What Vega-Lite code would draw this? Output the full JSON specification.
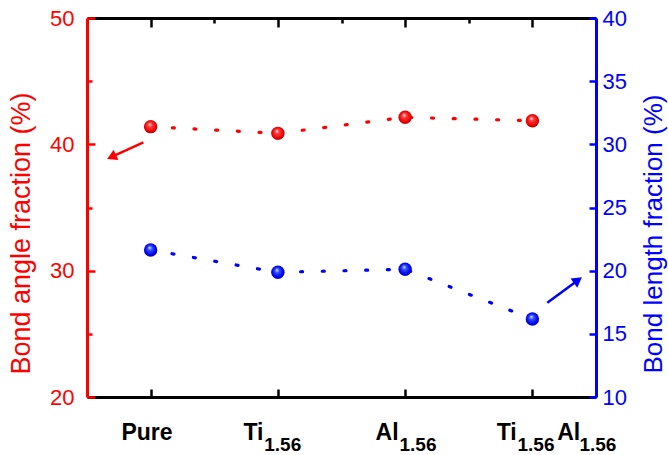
{
  "$schema": "https://vega.github.io/schema/vega-lite/v6.json",
  "width": 509,
  "height": 379,
  "autosize": {"type": "none"},
  "padding": {"left": 87, "top": 18, "right": 72, "bottom": 58},
  "background": "white",
  "config": {"view": {"stroke": null}, "font": "Liberation Sans"},
  "datasets": {
    "fractions": [
      {"pos": 1, "sample": "Pure", "angle": 41.4, "length": 21.64},
      {"pos": 2, "sample": "Ti1.56", "angle": 40.87, "length": 19.87},
      {"pos": 3, "sample": "Al1.56", "angle": 42.14, "length": 20.11},
      {"pos": 4, "sample": "Ti1.56Al1.56", "angle": 41.87, "length": 16.17}
    ],
    "arrows": [
      {"series": "angle", "x0": 0.943, "y0": 40.16, "x1": 0.693, "y1": 39.0, "heading": 245},
      {"series": "length", "x0": 4.117, "y0": 17.46, "x1": 4.358, "y1": 19.24, "heading": 53.9}
    ]
  },
  "resolve": {"scale": {"y": "independent"}, "axis": {"x": "independent", "y": "independent"}},
  "layer": [
    {
      "layer": [
        {
          "data": {"name": "fractions"},
          "mark": {"type": "line", "color": "#ff0000", "strokeWidth": 3.2, "strokeDash": [2, 19.7], "strokeCap": "round"},
          "encoding": {
            "x": {"field": "pos", "type": "quantitative", "scale": {"domain": [0.5, 4.5]},
              "axis": {"orient": "bottom", "values": [1, 2, 3, 4], "title": null, "labels": false,
                "domainColor": "#000000", "domainWidth": 3, "tickColor": "#000000", "tickWidth": 2.5, "tickSize": -8,
                "grid": false, "zindex": 1}},
            "y": {"field": "angle", "type": "quantitative", "scale": {"domain": [20, 50]},
              "axis": {"orient": "left", "title": "Bond angle fraction (%)", "titleColor": "#ff0000", "titleFont": "Liberation Sans",
                "titleFontSize": 27, "titleFontWeight": "normal", "titleAngle": 270, "titleAlign": "center", "titleBaseline": "middle",
                "titleX": -65.5, "titleY": 215,
                "values": [20, 25, 30, 35, 40, 45, 50], "labelExpr": "datum.value % 10 === 0 ? datum.label : ''",
                "labelColor": "#ff0000", "labelFont": "Liberation Sans", "labelFontSize": 22, "labelPadding": 21, "labelOverlap": false,
                "domainColor": "#ff0000", "domainWidth": 3, "tickColor": "#ff0000", "tickWidth": 2.5,
                "tickSize": {"condition": {"test": "datum.value % 10 !== 0", "value": -5}, "value": -8},
                "grid": false, "zindex": 2}}
          }
        },
        {
          "data": {"name": "fractions"},
          "mark": {"type": "point", "filled": true, "size": 180, "opacity": 1,
            "fill": {"gradient": "radial", "x1": 0.42, "y1": 0.32, "r1": 0, "x2": 0.5, "y2": 0.5, "r2": 0.55,
              "stops": [{"offset": 0, "color": "#ffffff"}, {"offset": 0.3, "color": "#ff3a3a"}, {"offset": 0.75, "color": "#f00000"}, {"offset": 1, "color": "#a00000"}]}},
          "encoding": {
            "x": {"field": "pos", "type": "quantitative", "scale": {"domain": [0.5, 4.5]}},
            "y": {"field": "angle", "type": "quantitative", "scale": {"domain": [20, 50]}}
          }
        },
        {
          "data": {"name": "arrows"},
          "transform": [{"filter": "datum.series === 'angle'"}],
          "mark": {"type": "rule", "color": "#ff0000", "strokeWidth": 2.5},
          "encoding": {
            "x": {"field": "x0", "type": "quantitative", "scale": {"domain": [0.5, 4.5]}},
            "y": {"field": "y0", "type": "quantitative", "scale": {"domain": [20, 50]}},
            "x2": {"field": "x1"},
            "y2": {"field": "y1"}
          }
        },
        {
          "data": {"name": "arrows"},
          "transform": [{"filter": "datum.series === 'angle'"}],
          "mark": {"type": "point", "shape": "triangle-up", "filled": true, "color": "#ff0000", "size": 130, "opacity": 1},
          "encoding": {
            "x": {"field": "x1", "type": "quantitative", "scale": {"domain": [0.5, 4.5]}},
            "y": {"field": "y1", "type": "quantitative", "scale": {"domain": [20, 50]}},
            "angle": {"field": "heading", "type": "quantitative", "scale": null}
          }
        }
      ]
    },
    {
      "layer": [
        {
          "data": {"name": "fractions"},
          "mark": {"type": "line", "color": "#0000ff", "strokeWidth": 3.2, "strokeDash": [2, 19.7], "strokeCap": "round"},
          "encoding": {
            "x": {"field": "pos", "type": "quantitative", "scale": {"domain": [0.5, 4.5]},
              "axis": {"orient": "top", "values": [1, 1.5, 2, 2.5, 3, 3.5, 4], "title": null, "labels": false,
                "domainColor": "#000000", "domainWidth": 3, "tickColor": "#000000", "tickWidth": 2.5,
                "tickSize": {"condition": {"test": "datum.value % 1 !== 0", "value": -5}, "value": -9},
                "grid": false, "zindex": 1}},
            "y": {"field": "length", "type": "quantitative", "scale": {"domain": [10, 40]},
              "axis": {"orient": "right", "title": "Bond length fraction (%)", "titleColor": "#0000ff", "titleFont": "Liberation Sans",
                "titleFontSize": 26, "titleFontWeight": "normal", "titleAngle": 270, "titleAlign": "center", "titleBaseline": "middle",
                "titleX": 57, "titleY": 215.5,
                "values": [10, 12.5, 15, 17.5, 20, 22.5, 25, 27.5, 30, 32.5, 35, 37.5, 40],
                "labelExpr": "datum.value % 5 === 0 ? datum.label : ''",
                "labelColor": "#0000ff", "labelFont": "Liberation Sans", "labelFontSize": 22, "labelPadding": 13, "labelOverlap": false,
                "domainColor": "#0000ff", "domainWidth": 3, "tickColor": "#0000ff", "tickWidth": 2.5,
                "tickSize": {"condition": {"test": "datum.value % 5 !== 0", "value": -4}, "value": -7},
                "grid": false, "zindex": 2}}
          }
        },
        {
          "data": {"name": "fractions"},
          "mark": {"type": "point", "filled": true, "size": 180, "opacity": 1,
            "fill": {"gradient": "radial", "x1": 0.42, "y1": 0.32, "r1": 0, "x2": 0.5, "y2": 0.5, "r2": 0.55,
              "stops": [{"offset": 0, "color": "#e8f0ff"}, {"offset": 0.3, "color": "#3050ff"}, {"offset": 0.75, "color": "#0000f0"}, {"offset": 1, "color": "#0000a0"}]}},
          "encoding": {
            "x": {"field": "pos", "type": "quantitative", "scale": {"domain": [0.5, 4.5]}},
            "y": {"field": "length", "type": "quantitative", "scale": {"domain": [10, 40]}}
          }
        },
        {
          "data": {"name": "arrows"},
          "transform": [{"filter": "datum.series === 'length'"}],
          "mark": {"type": "rule", "color": "#0000ff", "strokeWidth": 2.5},
          "encoding": {
            "x": {"field": "x0", "type": "quantitative", "scale": {"domain": [0.5, 4.5]}},
            "y": {"field": "y0", "type": "quantitative", "scale": {"domain": [10, 40]}},
            "x2": {"field": "x1"},
            "y2": {"field": "y1"}
          }
        },
        {
          "data": {"name": "arrows"},
          "transform": [{"filter": "datum.series === 'length'"}],
          "mark": {"type": "point", "shape": "triangle-up", "filled": true, "color": "#0000ff", "size": 130, "opacity": 1},
          "encoding": {
            "x": {"field": "x1", "type": "quantitative", "scale": {"domain": [0.5, 4.5]}},
            "y": {"field": "y1", "type": "quantitative", "scale": {"domain": [10, 40]}},
            "angle": {"field": "heading", "type": "quantitative", "scale": null}
          }
        }
      ]
    },
    {
      "data": {"name": "fractions"},
      "mark": {"type": "point", "opacity": 0},
      "encoding": {
        "x": {"field": "pos", "type": "quantitative", "scale": {"domain": [0.5, 4.5]},
          "axis": {"orient": "bottom", "values": [0.767, 1.725, 2.764, 3.716, 4.191], "title": null,
            "labelExpr": "datum.value < 1 ? 'Pure' : datum.value < 2 ? 'Ti' : datum.value < 3 ? 'Al' : datum.value < 4 ? 'Ti' : 'Al'",
            "labelAlign": "left", "labelBaseline": "alphabetic", "labelPadding": 42,
            "labelFont": "Liberation Sans", "labelFontSize": 23, "labelFontWeight": "bold", "labelColor": "#000000",
            "labelOverlap": false, "labelFlush": false, "labelBound": false,
            "ticks": false, "domain": false, "grid": false}}
      }
    },
    {
      "data": {"name": "fractions"},
      "mark": {"type": "point", "opacity": 0},
      "encoding": {
        "x": {"field": "pos", "type": "quantitative", "scale": {"domain": [0.5, 4.5]},
          "axis": {"orient": "bottom", "values": [1.889, 2.952, 3.879, 4.366], "title": null,
            "labelExpr": "'1.56'",
            "labelAlign": "left", "labelBaseline": "alphabetic", "labelPadding": 53,
            "labelFont": "Liberation Sans", "labelFontSize": 19, "labelFontWeight": "bold", "labelColor": "#000000",
            "labelOverlap": false, "labelFlush": false, "labelBound": false,
            "ticks": false, "domain": false, "grid": false}}
      }
    }
  ]
}
